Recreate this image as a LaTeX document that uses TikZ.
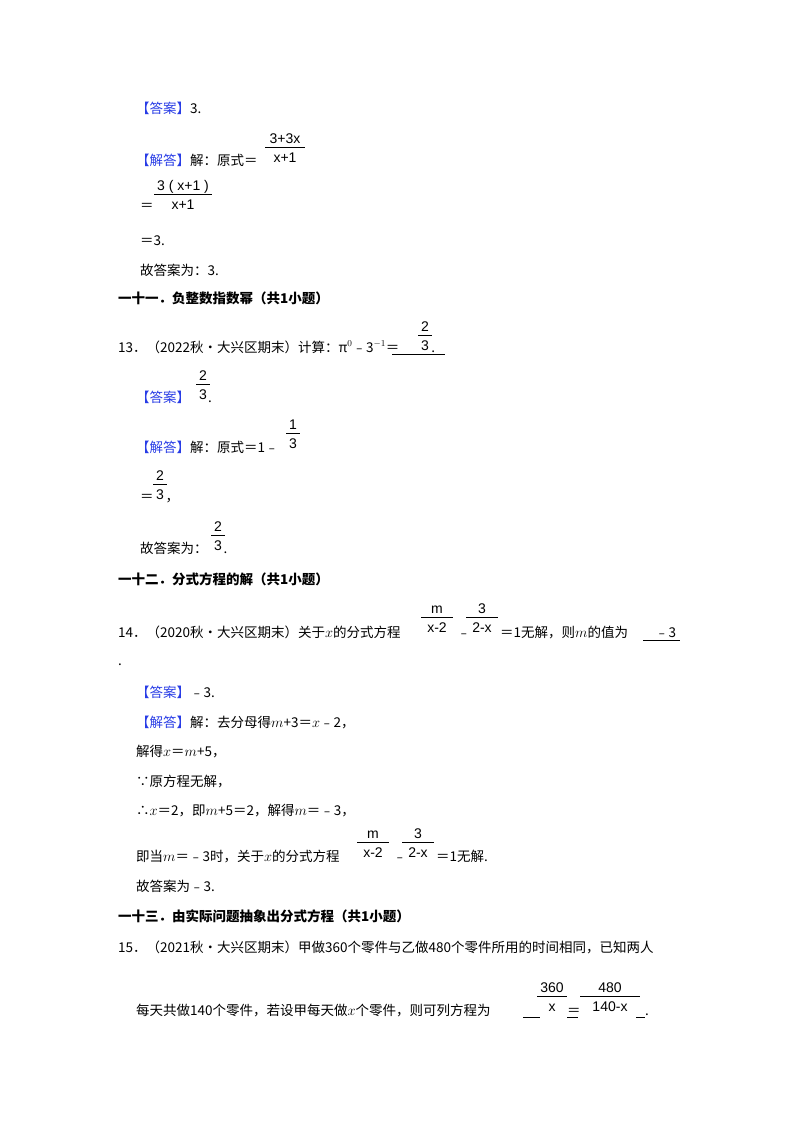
\documentclass[tikz,border=0pt]{standalone}
\usepackage{fontspec}
\setmainfont{Noto Sans CJK SC}
\newfontfamily\fsans{Liberation Sans}
\definecolor{ans}{RGB}{40,60,230}
\tikzset{t/.style={anchor=base west,inner sep=0pt,font=\fontsize{13.5pt}{16pt}\selectfont},
 h/.style={t,font=\fontsize{13.5pt}{16pt}\selectfont\bfseries},
 fn/.style={anchor=base,inner sep=0pt,font=\fontsize{14pt}{16pt}\fsans}}
\newcommand\myfrac[5]{%
 \draw[line width=0.8pt] (#1-#3/2,#2)--(#1+#3/2,#2);
 \node[fn] at (#1,#2-4) {#4};
 \node[fn] at (#1,#2+15) {#5};}
\newcommand\da{\textcolor{ans}{【答案】}}
\newcommand\jd{\textcolor{ans}{【解答】}}
\begin{document}
\begin{tikzpicture}[x=1pt,y=-1pt]
\useasboundingbox[fill=white] (0,0) rectangle (800,1132);
\node[t] at (136,113) {\da 3.};
\node[t] at (136,165) {\jd 解：原式＝};
\myfrac{285}{147}{40}{3+3x}{x+1}
\myfrac{183}{194}{58}{3 ( x+1 )}{x+1}
\node[t] at (140,210) {＝};
\node[t] at (140,245) {＝3.};
\node[t] at (140,275) {故答案为：3.};
\node[h] at (118,303) {一十一．负整数指数幂（共1小题）};
\node[t] at (118,352) {13．（2022秋•大兴区期末）计算：π$^0$﹣3$^{-1}$＝\hspace{32pt}.};
\draw (392,354)--(445,354);
\myfrac{425}{335}{14}{2}{3}
\node[t] at (136,402) {\da\hspace{18pt}.};
\myfrac{203}{384}{14}{2}{3}
\node[t] at (136,452) {\jd 解：原式＝1﹣};
\myfrac{293}{433}{14}{1}{3}
\node[t] at (140,501) {＝\hspace{12pt}，};
\myfrac{160}{484}{14}{2}{3}
\node[t] at (140,553) {故答案为：\hspace{16pt}.};
\myfrac{218}{535}{14}{2}{3}
\node[h] at (118,584) {一十二．分式方程的解（共1小题）};
\node[t] at (118,637) {14．（2020秋•大兴区期末）关于$x$的分式方程};
\myfrac{437}{617}{32}{m}{x-2}
\node[t] at (457,637) {﹣};
\myfrac{482}{617}{32}{3}{2-x}
\node[t] at (500,637) {＝1无解，则$m$的值为};
\node[t] at (655,637) {﹣3};
\draw (643,640)--(680,640);
\node[t] at (118,665) {.};
\node[t] at (136,697) {\da﹣3.};
\node[t] at (136,727) {\jd 解：去分母得$m$+3＝$x$﹣2，};
\node[t] at (136,756) {解得$x$＝$m$+5，};
\node[t] at (136,786) {∵原方程无解，};
\node[t] at (136,815) {∴$x$＝2，即$m$+5＝2，解得$m$＝﹣3，};
\node[t] at (136,861) {即当$m$＝﹣3时，关于$x$的分式方程};
\myfrac{373}{842}{32}{m}{x-2}
\node[t] at (393,861) {﹣};
\myfrac{418}{842}{32}{3}{2-x}
\node[t] at (436,861) {＝1无解.};
\node[t] at (136,891) {故答案为﹣3.};
\node[h] at (118,921) {一十三．由实际问题抽象出分式方程（共1小题）};
\node[t] at (118,952) {15．（2021秋•大兴区期末）甲做360个零件与乙做480个零件所用的时间相同，已知两人};
\node[t] at (136,1015) {每天共做140个零件，若设甲每天做$x$个零件，则可列方程为};
\draw (523,1017)--(540,1017);
\myfrac{552}{996}{30}{360}{x}
\node[t] at (567,1015) {＝};
\draw (567,1017)--(578,1017);
\myfrac{610}{996}{60}{480}{140-x}
\draw (636,1017)--(645,1017);
\node[t] at (645,1015) {.};
\end{tikzpicture}
\end{document}
